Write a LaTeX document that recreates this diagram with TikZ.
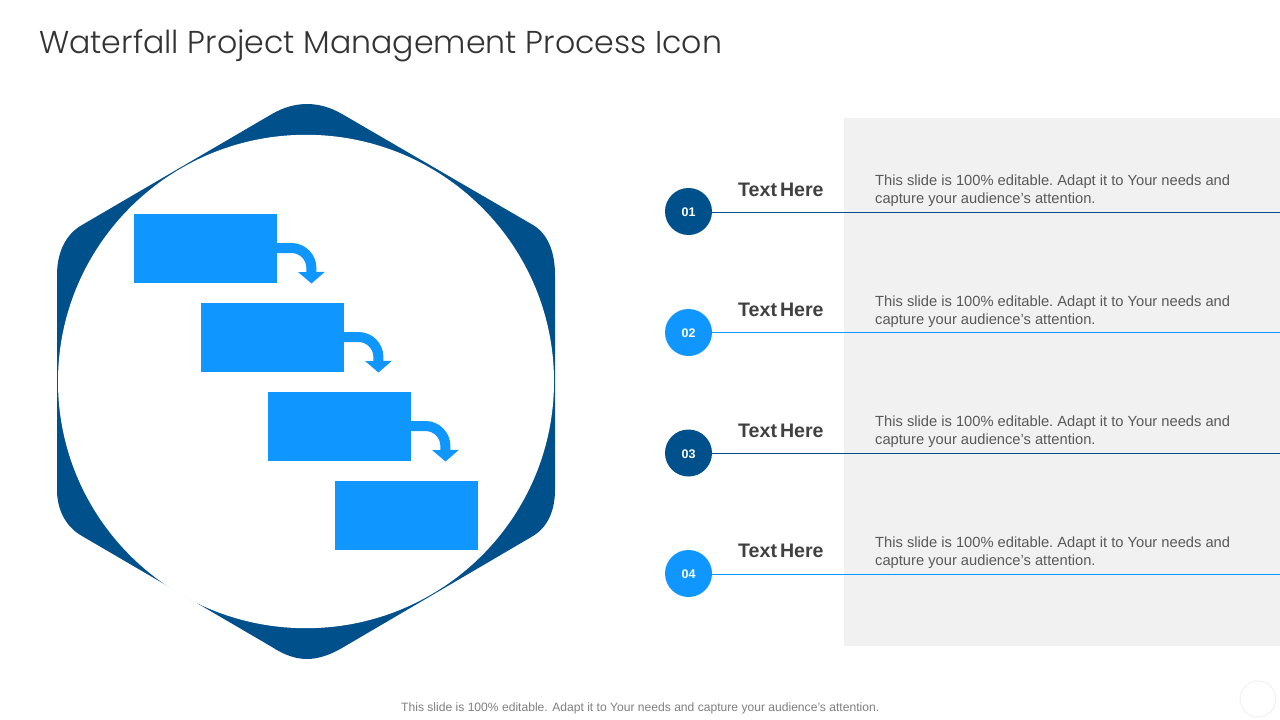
\documentclass[tikz,border=0pt]{standalone}
\usepackage{fontspec}
\usetikzlibrary{arrows.meta}
\setmainfont{Liberation Sans}
\newfontfamily\titlefont{Poppins Light}
\newfontfamily\headfont[WordSpace=0.55]{Liberation Sans}
\definecolor{navy}{HTML}{00508C}
\definecolor{sky}{HTML}{0F96FF}
\definecolor{panel}{HTML}{F1F1F1}
\definecolor{bodygrey}{HTML}{595959}
\definecolor{headgrey}{HTML}{404040}
\definecolor{footgrey}{HTML}{7F7F7F}
\tikzset{
  stepbox/.style={rectangle,fill=sky,draw=none,minimum width=143pt,minimum height=69pt,inner sep=0pt,anchor=north west},
  curvearrow/.style={draw=sky,line width=10pt,-{Triangle[length=11.5pt,width=26pt]}},
  badge/.style={circle,minimum size=47pt,inner sep=0pt,text height=10pt,text depth=0pt,font=\fontsize{12.5}{14}\selectfont\bfseries,text=white},
  rowrule/.style={line width=1pt},
  heading/.style={anchor=base west,inner sep=0pt,font=\fontsize{19.6}{24}\selectfont\headfont\bfseries,text=headgrey},
  bodytext/.style={anchor=north west,inner sep=0pt,align=left,font=\fontsize{14.7}{18}\selectfont\frenchspacing,text=bodygrey},
}
\begin{document}
\begin{tikzpicture}[x=1pt,y=-1pt]
\useasboundingbox (0,0) rectangle (1280,720);
\fill[white] (0,0) rectangle (1280,720);
\node[anchor=base west,inner sep=0pt,font=\fontsize{31.6}{40}\selectfont\titlefont,text=black!80] (title) at (39,53) {Waterfall Project Management Process Icon};
\fill[panel] (844,118) rectangle (1280,646);
% hexagon
\fill[navy] (272,114) .. controls (284,107) and (296,104) .. (307,104)
  .. controls (318,104) and (330,107) .. (342,114)
  -- (533,225) .. controls (548,234) and (555,252) .. (555,275)
  -- (555,490) .. controls (555,510) and (548,527) .. (533,536)
  -- (342,648) .. controls (330,655) and (318,659) .. (307,659)
  .. controls (296,659) and (284,655) .. (272,647)
  -- (82,536) .. controls (66,527) and (57,510) .. (57,490)
  -- (57,275) .. controls (57,252) and (66,234) .. (82,225) -- cycle;
\fill[white] (306,381.5) ellipse[x radius=248,y radius=246.7];
% steps
\node[stepbox] (s1) at (134,214) {};
\node[stepbox] (s2) at (201,303) {};
\node[stepbox] (s3) at (268,392) {};
\node[stepbox] (s4) at (335,481) {};
\coordinate (t1) at (311.5,283.5);
\coordinate (t2) at (378.5,372.5);
\coordinate (t3) at (445.5,461.5);
\draw[curvearrow] ([xshift=-1pt]s1.east |- 0,248) -- ++(15,0) arc[start angle=-90,end angle=0,radius=20] -- (t1);
\draw[curvearrow] ([xshift=-1pt]s2.east |- 0,337) -- ++(15,0) arc[start angle=-90,end angle=0,radius=20] -- (t2);
\draw[curvearrow] ([xshift=-1pt]s3.east |- 0,426) -- ++(15,0) arc[start angle=-90,end angle=0,radius=20] -- (t3);
% rows
\node[badge,fill=navy] (b1) at (688.5,211.5) {01};
\node[badge,fill=sky] (b2) at (688.5,332.5) {02};
\node[badge,fill=navy] (b3) at (688.5,453) {03};
\node[badge,fill=sky] (b4) at (688.5,573.5) {04};
\coordinate (e1) at (1280,212.5);
\coordinate (e2) at (1280,332.5);
\coordinate (e3) at (1280,453.5);
\coordinate (e4) at (1280,574.5);
\draw[rowrule,navy] (b1.east |- e1) -- (e1);
\draw[rowrule,sky] (b2.east |- e2) -- (e2);
\draw[rowrule,navy] (b3.east |- e3) -- (e3);
\draw[rowrule,sky] (b4.east |- e4) -- (e4);
\node[heading] (h1) at (738,196) {Text Here};
\node[heading] (h2) at (738,316) {Text Here};
\node[heading] (h3) at (738,437) {Text Here};
\node[heading] (h4) at (738,557) {Text Here};
\node[bodytext] (d1) at (875,175) {This slide is 100\% editable. Adapt it to Your needs and\\capture your audience’s attention.};
\node[bodytext] (d2) at (875,296) {This slide is 100\% editable. Adapt it to Your needs and\\capture your audience’s attention.};
\node[bodytext] (d3) at (875,416) {This slide is 100\% editable. Adapt it to Your needs and\\capture your audience’s attention.};
\node[bodytext] (d4) at (875,537) {This slide is 100\% editable. Adapt it to Your needs and\\capture your audience’s attention.};
\node[anchor=base west,inner sep=0pt,font=\fontsize{12.1}{14}\selectfont,text=footgrey] (foot) at (401,711) {This slide is 100\% editable. Adapt it to Your needs and capture your audience’s attention.};
\node[circle,draw=panel,line width=1pt,minimum size=36pt,inner sep=0pt] (mark) at (1258,699) {};
\end{tikzpicture}
\end{document}
